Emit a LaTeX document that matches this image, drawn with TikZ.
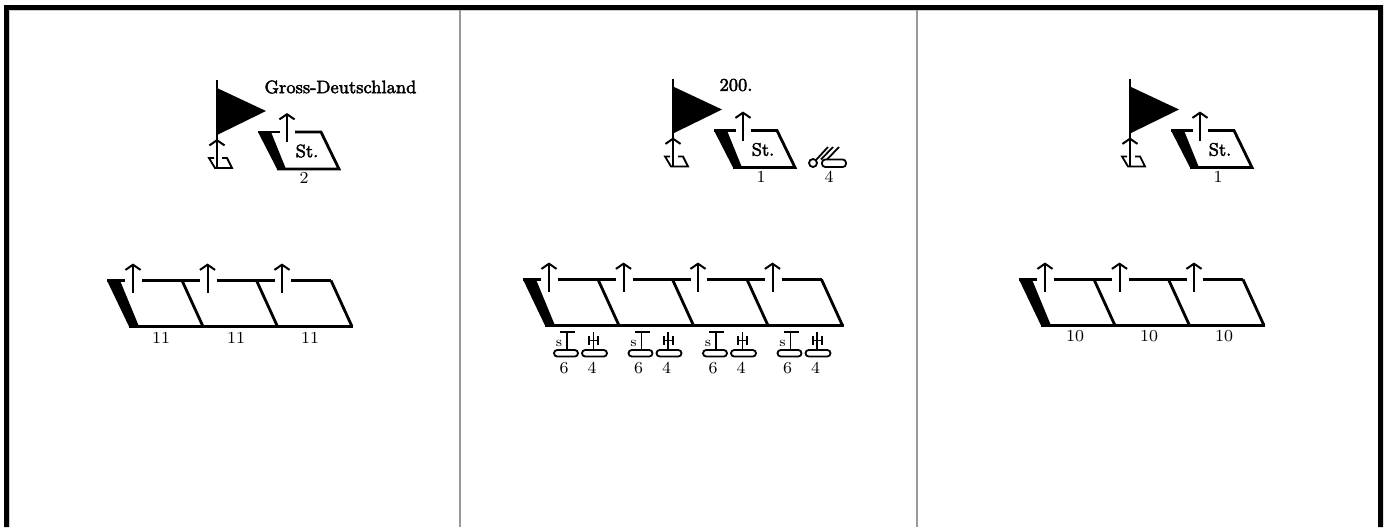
\documentclass[tikz,border=0pt]{standalone}
\usepackage{fontspec}
\usepackage{tikz}
\usetikzlibrary{arrows.meta,positioning,calc}
\newfontfamily\unitfont[RawFeature={embolden=2.5}]{Latin Modern Roman}
\definecolor{rulegray}{gray}{0.6}
\tikzset{
	unitline/.style={line width=1.4pt},
	unitbar/.style={fill=black, draw=none},
	uparrow/.style={line width=1pt, -{Straight Barb[length=2.6pt,width=7.6pt,line width=1pt]}},
	strength/.style={font=\fontsize{8.4}{9}\selectfont, inner sep=0pt},
	unitname/.style={font=\fontsize{9}{10}\selectfont\unitfont, inner sep=0pt},
	gunline/.style={line width=0.9pt},
	gunbase/.style={gunline, rounded corners=1.6pt},
	pics/platoons/.style={code={
		\fill[unitbar] (0,0) -- (13,0) -- (32,46) -- (22,46) -- cycle;
		\draw[unitline] (0,0) -- (18,0);
		\draw[unitline] (22,46) -- ({246+(#1-3)*74.5},46);
		\foreach \i in {1,...,#1} {
			\draw[uparrow] ({26+(\i-1)*74.5},12) -- ({26+(\i-1)*74.5},-17);
			\draw[unitline] ({35+(\i-1)*74.5},0) -- ({(\i<#1 ? 93 : 75)+(\i-1)*74.5},0);
			\draw[unitline] ({75+(\i-1)*74.5},0) -- ({96+(\i-1)*74.5},46);
		}
	}},
	pics/staff/.style={code={
		% flag with its small base
		\draw[line width=1pt] (0,-60) -- (0,0);
		\fill (0,-52) -- (49,-29) -- (0,-5) -- cycle;
		\draw[uparrow] (0,28) -- (0,-1);
		\draw[gunline] (-3,18) -- (-8,18) -- (-2,28) -- (15,28) -- (10,18) -- (5,18);
		% staff company box
		\fill[unitbar] (41,-8) -- (54,-8) -- (69,29) -- (60,29) -- cycle;
		\draw[unitline] (41,-8) -- (63,-8);
		\draw[unitline] (78,-8) -- (104,-8) -- (122,29) -- (60,29);
		\draw[uparrow] (70,2) -- (70,-27);
		\node[unitname] (st) at (90,11) {St.};
	}},
	pics/antitank/.style={code={
		\draw[gunline] (-2,0) -- (13,0) (5,0) -- (5,18);
		\draw[gunbase] (-8,18) rectangle (16,24.5);
		\node[font=\fontsize{7}{8}\selectfont, inner sep=0pt] (s) at (-3,11) {s};
		\draw[gunline] (31.5,0) -- (31.5,18);
		\draw[line width=1pt] (27,4) -- (27,13) (36,4) -- (36,13);
		\draw[gunline] (27,8.5) -- (36,8.5);
		\draw[gunbase] (20,18) rectangle (45,24.5);
		\node[strength] (six) at (2,36) {6};
		\node[strength] (four) at (30,36) {4};
	}},
}
\begin{document}
\begin{tikzpicture}[x=0.5pt,y=-0.5pt]
	\useasboundingbox (0,0) rectangle (1386,527);
	\fill[white] (0,0) rectangle (1386,527);
	% frame
	\fill[black] (4,527) -- (4,5) -- (1383,5) -- (1383,527) -- (1378,527) -- (1378,10) -- (9,10) -- (9,527) -- cycle;
	\draw[rulegray!50, line width=0.5pt] (9.5,527) -- (9.5,10.5) -- (1378,10.5);
	\draw[rulegray, line width=0.7pt] (460,10) -- (460,527);
	\draw[rulegray, line width=0.7pt] (917,10) -- (917,527);

	% first column
	\pic at (217,140) {staff};
	\node[unitname] (gd) at (340.5,87) {Gross-Deutschland};
	\node[strength] (gdstaff) at (304,178) {2};
	\pic at (107,280.5) {platoons=3};
	\node[strength] (a1) at (161,338) {11};
	\node[strength] (a2) at (236,338) {11};
	\node[strength] (a3) at (310,338) {11};

	% second column
	\pic at (673,138.5) {staff};
	\node[unitname] (inf) at (736,85) {200.};
	\node[strength] (infstaff) at (761,177) {1};
	\draw[gunline] (813,163) circle (4);
	\draw[gunbase] (822,159.5) rectangle (846,167);
	\draw[gunline] (816,160) -- (828,147) (821,159.5) -- (833,147) (827,159.5) -- (839,147);
	\node[strength] (pak) at (829,177) {4};
	\pic at (523,279.5) {platoons=4};
	\foreach \i in {0,...,3} {
		\pic at ({562+\i*74.5},332) {antitank};
	}

	% third column
	\pic at (1130,138.5) {staff};
	\node[strength] (cstaff) at (1218,177) {1};
	\pic at (1019,279.5) {platoons=3};
	\node[strength] (c1) at (1075,336) {10};
	\node[strength] (c2) at (1149,336) {10};
	\node[strength] (c3) at (1224,336) {10};
\end{tikzpicture}
\end{document}
